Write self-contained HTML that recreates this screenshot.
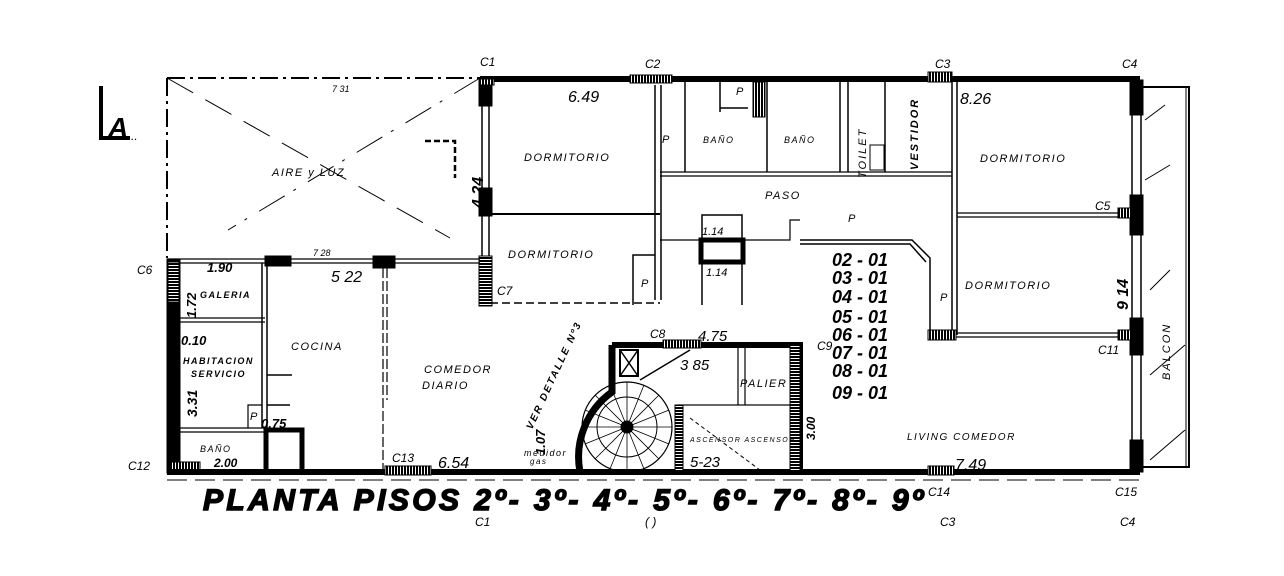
<!DOCTYPE html>
<html><head><meta charset="utf-8"><style>
html,body{margin:0;padding:0;background:#fff;width:1284px;height:576px;overflow:hidden}
svg{display:block}
text{font-family:"Liberation Sans",sans-serif;font-style:italic;fill:#000}
</style></head><body>
<svg width="1284" height="576" viewBox="0 0 1284 576" xmlns="http://www.w3.org/2000/svg">
<defs>
<pattern id="h" width="3" height="3" patternUnits="userSpaceOnUse"><rect width="3" height="3" fill="#000"/><rect x="1" width="1" height="3" fill="#fff"/></pattern>
<pattern id="hv" width="3" height="3" patternUnits="userSpaceOnUse"><rect width="3" height="3" fill="#000"/><rect y="1" width="3" height="1" fill="#fff"/></pattern>
</defs>
<g stroke="#000" fill="none">
<path d="M101 86 V138 H130" stroke-width="4"/>
<path d="M167 78 H480" stroke-width="2" stroke-dasharray="18 5 3 5"/>
<path d="M167 78 V258" stroke-width="2" stroke-dasharray="18 5 3 5"/>
<path d="M167 78 L450 238" stroke-width="1" stroke-dasharray="30 14"/>
<path d="M480 78 L228 230" stroke-width="1" stroke-dasharray="30 14 3 10"/>
<path d="M425 141 H455 V178" stroke-width="2.5" stroke-dasharray="6 3"/>
<path d="M480 79 H1140" stroke-width="6"/>
<path d="M482 80 V305 M489 80 V305" stroke-width="1.5"/>
<rect x="479" y="78" width="13" height="28" fill="#000"/>
<rect x="479" y="188" width="13" height="28" fill="#000"/>
<rect x="479" y="256" width="13" height="50" fill="url(#hv)"/>
<rect x="480" y="79" width="14" height="6" fill="url(#h)"/>
<path d="M490 214 H660" stroke-width="2"/>
<path d="M490 303 H660" stroke-width="1.5" stroke-dasharray="8 4"/>
<path d="M655 85 V300 M661 85 V300" stroke-width="1.5"/>
<path d="M633 305 V255 H655" stroke-width="1.5"/>
<path d="M685 82 V172 M767 82 V172 M840 82 V172 M848 82 V172 M885 82 V172 M952 82 V335 M957 82 V335" stroke-width="1.5"/>
<path d="M660 172 H952 M660 176 H952" stroke-width="1.2"/>
<path d="M720 82 V112 M720 108 H748" stroke-width="1.5"/>
<rect x="753" y="82" width="12" height="35" fill="url(#h)"/>
<rect x="870" y="145" width="14" height="25"/>
<path d="M800 240 H912 L930 258 V262 M800 244 H910 L926 262" stroke-width="1.5"/>
<path d="M660 240 H700 M745 240 H790 V220 H800" stroke-width="1.2"/>
<rect x="701" y="240" width="42" height="22" stroke-width="5"/>
<path d="M702 240 V215 H742 V240 M702 262 V305 M742 262 V305" stroke-width="1.5"/>
<path d="M957 213 H1132 M957 217 H1132" stroke-width="1.2"/>
<path d="M930 333 H1132 M930 337 H1132" stroke-width="1.2"/>
<path d="M930 262 V333" stroke-width="1.5"/>
<rect x="928" y="330" width="28" height="10" fill="url(#h)"/>
<rect x="928" y="72" width="24" height="10" fill="url(#h)"/>
<rect x="630" y="75" width="42" height="8" fill="url(#h)"/>
<path d="M1132 80 V472 M1141 80 V472" stroke-width="1.5"/>
<rect x="1130" y="80" width="13" height="35" fill="#000"/>
<rect x="1130" y="195" width="13" height="40" fill="#000"/>
<rect x="1130" y="318" width="13" height="37" fill="#000"/>
<rect x="1130" y="440" width="13" height="32" fill="#000"/>
<rect x="1118" y="208" width="14" height="10" fill="url(#h)"/>
<rect x="1118" y="330" width="14" height="10" fill="url(#h)"/>
<path d="M1143 87 H1189 V467 H1143" stroke-width="2"/>
<path d="M1186 87 V467" stroke-width="1"/>
<path d="M1150 460 L1185 430 M1150 375 L1185 345 M1150 290 L1170 270 M1145 180 L1170 165 M1145 120 L1165 105" stroke-width="1"/>
<path d="M167 259 H480 M167 263 H480" stroke-width="1.2"/>
<rect x="265" y="256" width="26" height="10" fill="#000"/>
<rect x="373" y="256" width="22" height="12" fill="#000"/>
<rect x="167" y="259" width="13" height="214" fill="#000"/>
<rect x="168" y="262" width="11" height="40" fill="url(#hv)"/>
<rect x="170" y="462" width="30" height="9" fill="url(#h)"/>
<path d="M180 318 H265 M180 322 H265" stroke-width="1.2"/>
<path d="M262 263 V428 M267 263 V428" stroke-width="1.5"/>
<path d="M180 428 H265 M180 432 H265" stroke-width="1.2"/>
<path d="M248 428 V405 H262" stroke-width="1.2"/>
<rect x="266" y="430" width="36" height="42" stroke-width="5"/>
<path d="M267 375 H292 M267 405 H290" stroke-width="1.5"/>
<path d="M383 268 V470 M387 268 V400" stroke-width="1.2" stroke-dasharray="10 3"/>
<path d="M167 472 H1140" stroke-width="6"/>
<rect x="385" y="466" width="46" height="9" fill="url(#h)"/>
<rect x="928" y="466" width="26" height="9" fill="url(#h)"/>
<path d="M167 480 H1140" stroke-width="1" stroke-dasharray="20 8"/>
<path d="M612 345 H800 V472" stroke-width="6"/>
<path d="M612 345 V392 A80 80 0 0 0 580 472" stroke-width="7"/>
<circle cx="627" cy="427" r="45" stroke-width="1.2"/>
<circle cx="627" cy="427" r="30" stroke-width="1"/>
<circle cx="627" cy="427" r="6" fill="#000"/>
<path d="M627 382 V472 M582 427 H672 M595 395 L659 459 M659 395 L595 459 M610 385 L644 469 M644 385 L610 469 M585 410 L669 444 M669 410 L585 444" stroke-width="0.8"/>
<rect x="620" y="350" width="18" height="26" stroke-width="2"/>
<path d="M620 350 L638 376 M638 350 L620 376" stroke-width="1.5"/>
<path d="M640 380 L690 350" stroke-width="1.5"/>
<rect x="663" y="340" width="38" height="8" fill="url(#h)"/>
<rect x="678" y="405" width="117" height="67" stroke-width="1.2"/>
<rect x="675" y="405" width="8" height="67" fill="url(#hv)"/>
<rect x="790" y="345" width="10" height="127" fill="url(#hv)"/>
<path d="M683 405 H795 M690 418 L760 470" stroke-width="1" stroke-dasharray="4 3"/>
<path d="M738 345 V405 M745 345 V405" stroke-width="1.2"/>
</g>
<text x="108" y="137" font-size="28" font-weight="bold">A</text>
<text x="131" y="140" font-size="12">..</text>
<g font-size="12">
<text x="480" y="66">C1</text><text x="645" y="68">C2</text><text x="935" y="68">C3</text><text x="1122" y="68">C4</text>
<text x="1095" y="210">C5</text><text x="1098" y="354">C11</text>
<text x="137" y="274">C6</text><text x="128" y="470">C12</text>
<text x="392" y="462">C13</text><text x="650" y="338">C8</text><text x="817" y="350">C9</text>
<text x="928" y="496">C14</text><text x="1115" y="496">C15</text>
<text x="475" y="526">C1</text><text x="645" y="526">( )</text><text x="940" y="526">C3</text><text x="1120" y="526">C4</text>
<text x="497" y="295">C7</text>
</g>
<g font-size="14">
<text x="568" y="102" font-size="16">6.49</text>
<text x="960" y="104" font-size="16">8.26</text>
<text x="331" y="282" font-size="16">5 22</text>
<text x="438" y="468" font-size="16">6.54</text>
<text x="955" y="470" font-size="16">7.49</text>
<text x="698" y="341" font-size="15">4.75</text>
<text x="680" y="370" font-size="15">3 85</text>
<text x="690" y="467" font-size="15">5-23</text>
<text x="332" y="92" font-size="9">7 31</text>
<text x="313" y="256" font-size="9">7 28</text>
<text x="207" y="272" font-size="13" font-weight="bold">1.90</text>
<text x="181" y="345" font-size="13" font-weight="bold">0.10</text>
<text x="261" y="428" font-size="13" font-weight="bold">0.75</text>
<text x="214" y="467" font-size="12" font-weight="bold">2.00</text>
<text x="702" y="235" font-size="11">1.14</text>
<text x="706" y="276" font-size="11">1.14</text>
</g>
<g font-size="11" letter-spacing="1.5">
<text x="272" y="176">AIRE y LUZ</text>
<text x="524" y="161">DORMITORIO</text>
<text x="508" y="258">DORMITORIO</text>
<text x="980" y="162">DORMITORIO</text>
<text x="965" y="289">DORMITORIO</text>
<text x="765" y="199">PASO</text>
<text x="200" y="298" font-size="9" font-weight="bold">GALERIA</text>
<text x="183" y="364" font-size="9" font-weight="bold">HABITACION</text>
<text x="191" y="377" font-size="9" font-weight="bold">SERVICIO</text>
<text x="291" y="350">COCINA</text>
<text x="424" y="373">COMEDOR</text>
<text x="422" y="389">DIARIO</text>
<text x="740" y="387">PALIER</text>
<text x="907" y="440" font-size="10">LIVING COMEDOR</text>
<text x="703" y="143" font-size="9">BAÑO</text>
<text x="784" y="143" font-size="9">BAÑO</text>
<text x="690" y="442" font-size="7">ASCENSOR ASCENSOR</text>
<text x="200" y="452" font-size="9">BAÑO</text>
<text x="524" y="456" font-size="9">medidor</text>
<text x="530" y="464" font-size="8">gas</text>
</g>
<g font-size="11">
<text x="662" y="143">P</text><text x="736" y="95">P</text><text x="641" y="287">P</text>
<text x="848" y="222">P</text><text x="940" y="301">P</text><text x="250" y="420">P</text>
</g>
<g font-size="11" letter-spacing="2">
<text transform="translate(866 178) rotate(-90)">TOILET</text>
<text transform="translate(918 170) rotate(-90)" font-weight="bold">VESTIDOR</text>
<text transform="translate(1170 380) rotate(-90)">BALCON</text>
<text transform="translate(532 430) rotate(-65)" font-weight="bold" font-size="10">VER DETALLE Nº3</text>
</g>
<g font-size="16" font-weight="bold">
<text transform="translate(483 208) rotate(-90)">4 24</text>
<text transform="translate(1128 310) rotate(-90)">9 14</text>
<text transform="translate(197 417) rotate(-90)" font-size="14">3.31</text>
<text transform="translate(196 318) rotate(-90)" font-size="13">1.72</text>
<text transform="translate(545 455) rotate(-90)" font-size="13">1.07</text>
<text transform="translate(815 440) rotate(-90)" font-size="12">3.00</text>
</g>
<g font-size="18" font-weight="bold">
<text x="832" y="266">02 - 01</text>
<text x="832" y="284">03 - 01</text>
<text x="832" y="303">04 - 01</text>
<text x="832" y="323">05 - 01</text>
<text x="832" y="341">06 - 01</text>
<text x="832" y="359">07 - 01</text>
<text x="832" y="377">08 - 01</text>
<text x="832" y="399">09 - 01</text>
</g>
<text x="203" y="510" font-size="30" font-weight="bold" stroke="#000" stroke-width="1.5" textLength="720" lengthAdjust="spacing">PLANTA  PISOS  2º- 3º- 4º- 5º- 6º- 7º- 8º- 9º</text>
</svg>
</body></html>
